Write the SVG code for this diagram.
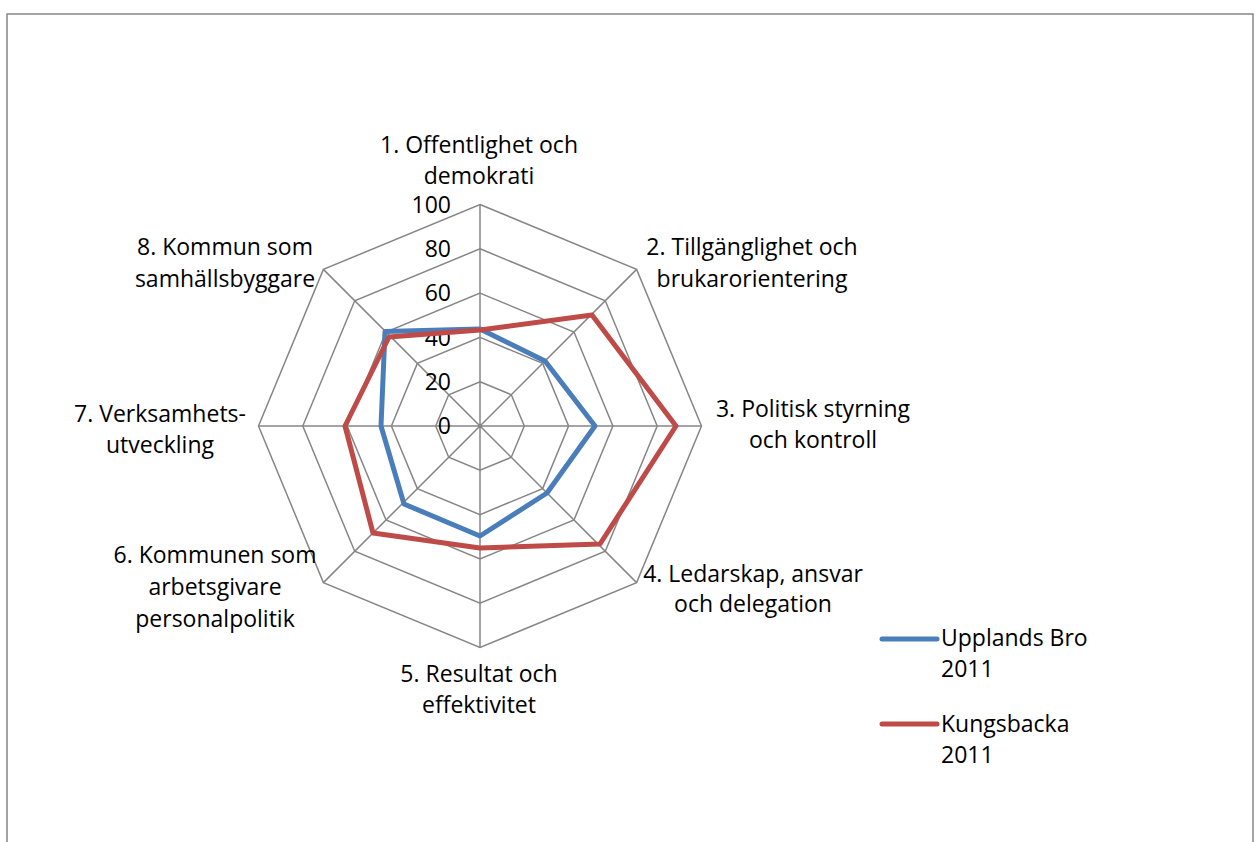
<svg xmlns="http://www.w3.org/2000/svg" width="1257" height="842" viewBox="0 0 1257 842">
<style>
text{font-family:"Open Sans","Liberation Sans",Arial,sans-serif;font-size:23px;fill:#000}
.c{text-anchor:middle}
.n{text-anchor:end}
.grid{fill:none;stroke:#868686;stroke-width:1.5}
.s{fill:none;stroke-width:5;stroke-linejoin:round;stroke-linecap:round}
</style>
<rect x="0" y="0" width="1257" height="842" fill="#fff"/>
<path d="M7,850 V14 H1253 V850" fill="none" stroke="#868686" stroke-width="1.5"/>
<g id="grid" class="grid">
<polygon points="480,204.5 636.6,269.4 701.5,426 636.6,582.6 480,647.5 323.4,582.6 258.5,426 323.4,269.4"/>
<polygon points="480,248.8 605.3,300.7 657.2,426 605.3,551.3 480,603.2 354.7,551.3 302.8,426 354.7,300.7"/>
<polygon points="480,293.1 574,332 612.9,426 574,520 480,558.9 386,520 347.1,426 386,332"/>
<polygon points="480,337.4 542.65,363.35 568.6,426 542.65,488.65 480,514.6 417.35,488.65 391.4,426 417.35,363.35"/>
<polygon points="480,381.7 511.3,394.7 524.3,426 511.3,457.3 480,470.3 448.7,457.3 435.7,426 448.7,394.7"/>
<path d="M480,426 V204.5 M480,426 L636.6,269.4 M480,426 H701.5 M480,426 L636.6,582.6 M480,426 V647.5 M480,426 L323.4,582.6 M480,426 H258.5 M480,426 L323.4,269.4"/>
</g>
<g id="axis-values">
<text class="n" x="451" y="213">100</text>
<text class="n" x="451" y="257">80</text>
<text class="n" x="451" y="301">60</text>
<text class="n" x="451" y="346">40</text>
<text class="n" x="451" y="390">20</text>
<text class="n" x="451" y="434">0</text>
</g>
<g id="series-upplands-bro">
<polygon class="s" stroke="#4a7ebb" points="480,329 545,361 595,426 547,493 480,536 404,504 381,426 385,331.5"/>
</g>
<g id="series-kungsbacka">
<polygon class="s" stroke="#be4b48" points="480,330 592,315 676,426 600,544 480,548 373,533 345,426 389,337"/>
</g>
<g id="label-1"><text class="c" x="479" y="153">1. Offentlighet och</text><text class="c" x="479" y="184">demokrati</text></g>
<g id="label-2"><text class="c" x="752" y="255">2. Tillgänglighet och</text><text class="c" x="752" y="287">brukarorientering</text></g>
<g id="label-3"><text class="c" x="813" y="417">3. Politisk styrning</text><text class="c" x="813" y="448">och kontroll</text></g>
<g id="label-4"><text class="c" x="753" y="582">4. Ledarskap, ansvar</text><text class="c" x="753" y="612">och delegation</text></g>
<g id="label-5"><text class="c" x="479" y="682">5. Resultat och</text><text class="c" x="479" y="713">effektivitet</text></g>
<g id="label-6"><text class="c" x="215" y="563">6. Kommunen som</text><text class="c" x="215" y="595">arbetsgivare</text><text class="c" x="215" y="627">personalpolitik</text></g>
<g id="label-7"><text class="c" x="160" y="422">7. Verksamhets-</text><text class="c" x="160" y="453">utveckling</text></g>
<g id="label-8"><text class="c" x="225" y="255">8. Kommun som</text><text class="c" x="225" y="287">samhällsbyggare</text></g>
<g id="legend">
<line x1="882" y1="639" x2="937" y2="639" stroke="#4a7ebb" stroke-width="5" stroke-linecap="round"/>
<text x="941" y="646">Upplands Bro</text>
<text x="941" y="677">2011</text>
<line x1="882" y1="724" x2="937" y2="724" stroke="#be4b48" stroke-width="5" stroke-linecap="round"/>
<text x="941" y="732">Kungsbacka</text>
<text x="941" y="763">2011</text>
</g>
</svg>
